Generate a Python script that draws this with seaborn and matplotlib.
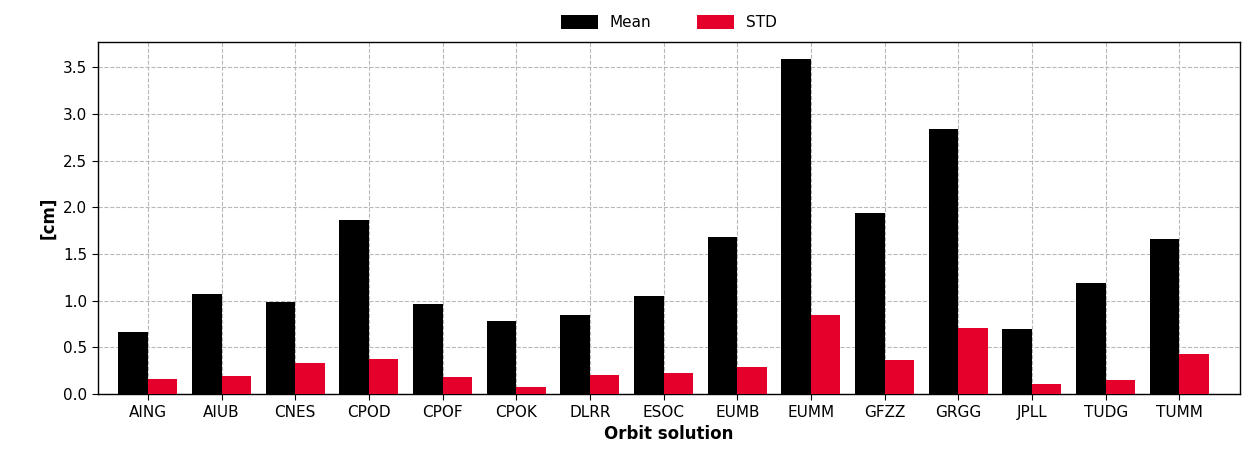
import matplotlib
matplotlib.use("Agg")
import matplotlib.pyplot as plt
import seaborn as sns
import pandas as pd

solutions = ["AING", "AIUB", "CNES", "CPOD", "CPOF", "CPOK", "DLRR", "ESOC",
             "EUMB", "EUMM", "GFZZ", "GRGG", "JPLL", "TUDG", "TUMM"]
mean_vals = [0.66, 1.07, 0.99, 1.86, 0.97, 0.78, 0.85, 1.05,
             1.68, 3.59, 1.94, 2.84, 0.70, 1.19, 1.66]
std_vals = [0.16, 0.19, 0.33, 0.38, 0.18, 0.08, 0.20, 0.23,
            0.29, 0.85, 0.37, 0.71, 0.11, 0.15, 0.43]

df = pd.DataFrame({
    "solution": solutions * 2,
    "value": mean_vals + std_vals,
    "stat": ["Mean"] * len(solutions) + ["STD"] * len(solutions),
})

sns.set_style("white")
plt.rcParams['font.family'] = ['DejaVu Sans']
plt.rcParams['text.color'] = 'black'
plt.rcParams['axes.labelcolor'] = 'black'
plt.rcParams['xtick.color'] = 'black'
plt.rcParams['ytick.color'] = 'black'

fig, ax = plt.subplots(figsize=(12.53, 4.53), dpi=100)
sns.barplot(data=df, x="solution", y="value", hue="stat",
            palette={"Mean": "#000000", "STD": "#E4002B"},
            width=0.8, gap=0, saturation=1, linewidth=0, ax=ax, zorder=3)

ax.set_xlim(-0.68, 14.83)
ax.set_ylim(0, 3.77)
ax.set_yticks([0, 0.5, 1.0, 1.5, 2.0, 2.5, 3.0, 3.5])
ax.grid(True, linestyle="--", color="#b8b8b8", linewidth=0.8, zorder=0)
ax.set_axisbelow(True)
for s in ax.spines.values():
    s.set_color("black")
    s.set_linewidth(1.0)
ax.tick_params(axis="both", labelsize=11, length=4, direction="out", bottom=True, left=True)
ax.set_xlabel("Orbit solution", fontsize=12, fontweight="bold")
ax.set_ylabel("[cm]", fontsize=12, fontweight="bold")

leg = ax.legend(loc="lower center", bbox_to_anchor=(0.5, 0.995), ncol=2,
                frameon=False, fontsize=11, handlelength=2.4, handleheight=1.1,
                columnspacing=3.0)

fig.subplots_adjust(left=0.078, right=0.99, top=0.907, bottom=0.13)
fig.savefig("out.png", dpi=100)
